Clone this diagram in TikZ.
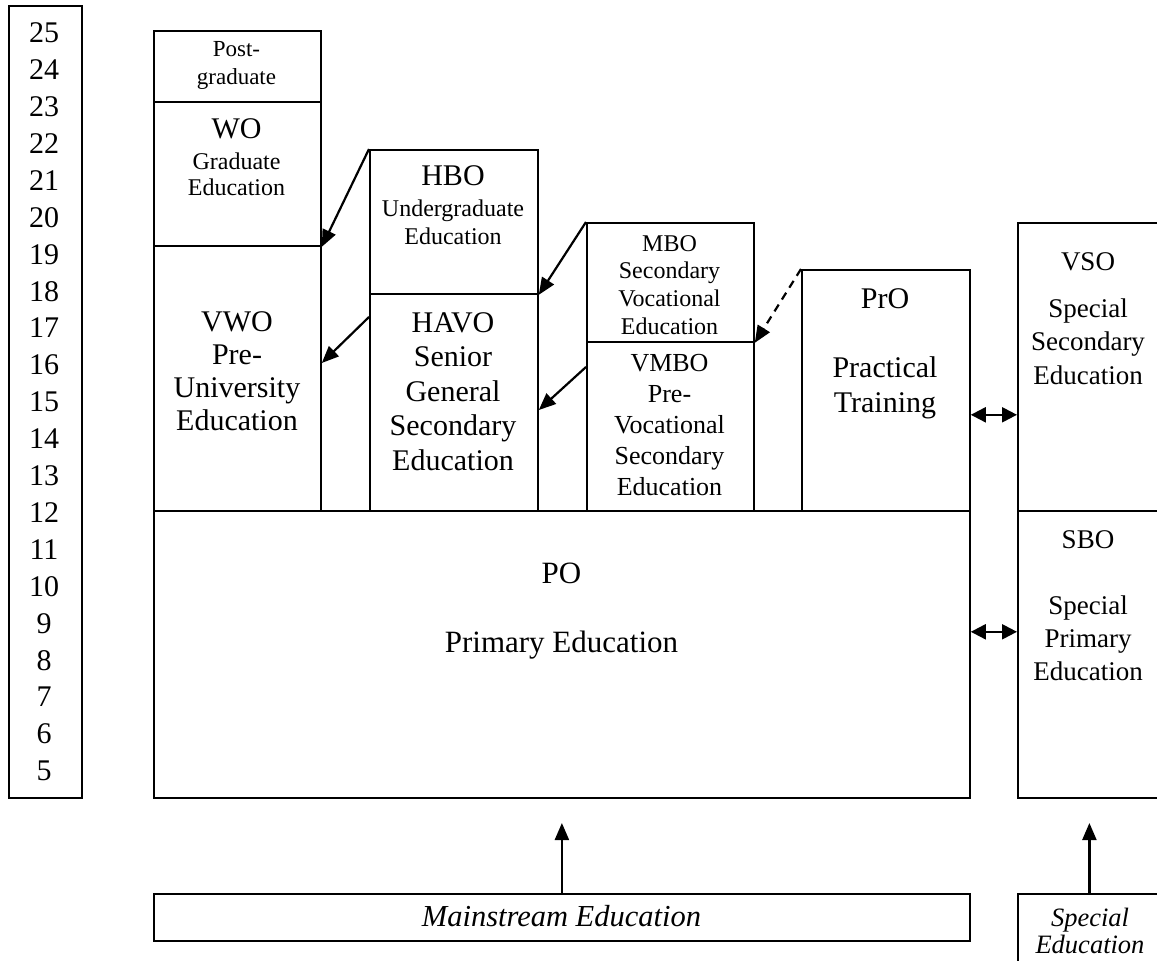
\documentclass[tikz,border=0pt]{standalone}
\usepackage{fontspec}
\setmainfont{Liberation Serif}
\usetikzlibrary{arrows.meta,calc}

\newcommand{\fs}[2]{\fontsize{#1}{#2}\selectfont}

\begin{document}
\begin{tikzpicture}[x=1pt,y=-1pt,
  box/.style n args={2}{draw,line width=1.8pt,anchor=north west,
    minimum width=#1,minimum height=#2,inner sep=0pt},
  txt/.style={align=center,inner sep=0pt},
  link/.style={line width=2.2pt,-{Triangle[length=17pt,width=14pt]}},
  both/.style={line width=2.2pt,{Triangle[length=15pt,width=15pt]}-{Triangle[length=15pt,width=15pt]}}]

\path[use as bounding box] (0,0) rectangle (1157,961);
\clip (0,0) rectangle (1157,961);

% age scale
\node[box={73pt}{792pt}] (ages) at (8,5) {};
\node[txt,font=\fs{30}{36.9}] (agelist) at (44,402)
  {25\\24\\23\\22\\21\\20\\19\\18\\17\\16\\15\\14\\13\\12\\11\\10\\9\\8\\7\\6\\5};

% university column
\node[box={167pt}{71pt}]  (post) at (153,30) {};
\node[box={167pt}{144pt}] (wo)   at (153,101) {};
\node[box={167pt}{265pt}] (vwo)  at (153,245) {};
\node[txt,font=\fs{23}{28}] (post-t) at (236.5,65) {Post-\\graduate};
\node[txt,font=\fs{30}{34}] (wo-h) at (236.5,129) {WO};
\node[txt,font=\fs{24}{26}] (wo-t) at (236.5,174) {Graduate\\Education};
\node[txt,font=\fs{30}{33}] (vwo-t) at (237,371.5) {VWO\\Pre-\\University\\Education};

% higher professional column
\node[box={168pt}{144pt}] (hbo)  at (369,149) {};
\node[box={168pt}{217pt}] (havo) at (369,293) {};
\node[txt,font=\fs{30}{34}] (hbo-h) at (453,176) {HBO};
\node[txt,font=\fs{24}{28}] (hbo-t) at (453,222) {Undergraduate\\Education};
\node[txt,font=\fs{30}{34.5}] (havo-t) at (453,391.5) {HAVO\\Senior\\General\\Secondary\\Education};

% vocational column
\node[box={167pt}{119pt}] (mbo)  at (586,222) {};
\node[box={167pt}{169pt}] (vmbo) at (586,341) {};
\node[txt,font=\fs{24}{27.7}] (mbo-t) at (669.5,285) {MBO\\Secondary\\Vocational\\Education};
\node[txt,font=\fs{26}{31}] (vmbo-t) at (669.5,425.5) {VMBO\\Pre-\\Vocational\\Secondary\\Education};

% practical training
\node[box={168pt}{241pt}] (pro) at (801,269) {};
\node[txt,font=\fs{30}{34}] (pro-h) at (885,299) {PrO};
\node[txt,font=\fs{30}{35}] (pro-t) at (885,387.5) {Practical\\Training};

% primary education
\node[box={816pt}{287pt}] (po) at (153,510) {};
\node[txt,font=\fs{31}{34}] (po-h) at (561.5,573) {PO};
\node[txt,font=\fs{31}{34}] (po-t) at (561.5,645) {Primary Education};

% special education column
\node[box={143pt}{288pt}] (vso) at (1017,222) {};
\node[box={143pt}{287pt}] (sbo) at (1017,510) {};
\node[txt,font=\fs{27}{33}] (vso-h) at (1088,262) {VSO};
\node[txt,font=\fs{27}{33.5}] (vso-t) at (1088,341.5) {Special\\Secondary\\Education};
\node[txt,font=\fs{27}{33}] (sbo-h) at (1088,540) {SBO};
\node[txt,font=\fs{27}{33}] (sbo-t) at (1088,638) {Special\\Primary\\Education};

% streams
\node[box={816pt}{47pt}] (main) at (153,893) {};
\node[box={143pt}{90pt}] (spec) at (1017,893) {};
\node[txt,font=\fs{30.5}{32}\itshape] (main-t) at (561.5,916) {Mainstream Education};
\node[txt,font=\fs{26.5}{27}\itshape] (spec-t) at (1090,931) {Special\\Education};

% transfers between tracks
\draw[link] (hbo.north west) -- (wo.south east);
\draw[link] ($(havo.north west)+(0,24)$) -- ($(vwo.north east)+(0,118)$);
\draw[link] (mbo.north west) -- (hbo.south east);
\draw[link] ($(vmbo.north west)+(0,26)$) -- ($(havo.north east)+(0,117)$);
\draw[link,dash pattern=on 8pt off 6pt] (pro.north west) -- (mbo.south east);

% links with special education
\draw[both] ($(pro.south east)+(0,-97)$) -- ($(vso.south west)+(0,-97)$);
\draw[both] ($(po.south east)+(0,-167)$) -- ($(sbo.south west)+(0,-167)$);

% entry arrows
\draw[link] (main.north) -- ($(main.north)+(0,-70)$);
\draw[link] (spec.north) -- ($(spec.north)+(0,-70)$);
\end{tikzpicture}
\end{document}
